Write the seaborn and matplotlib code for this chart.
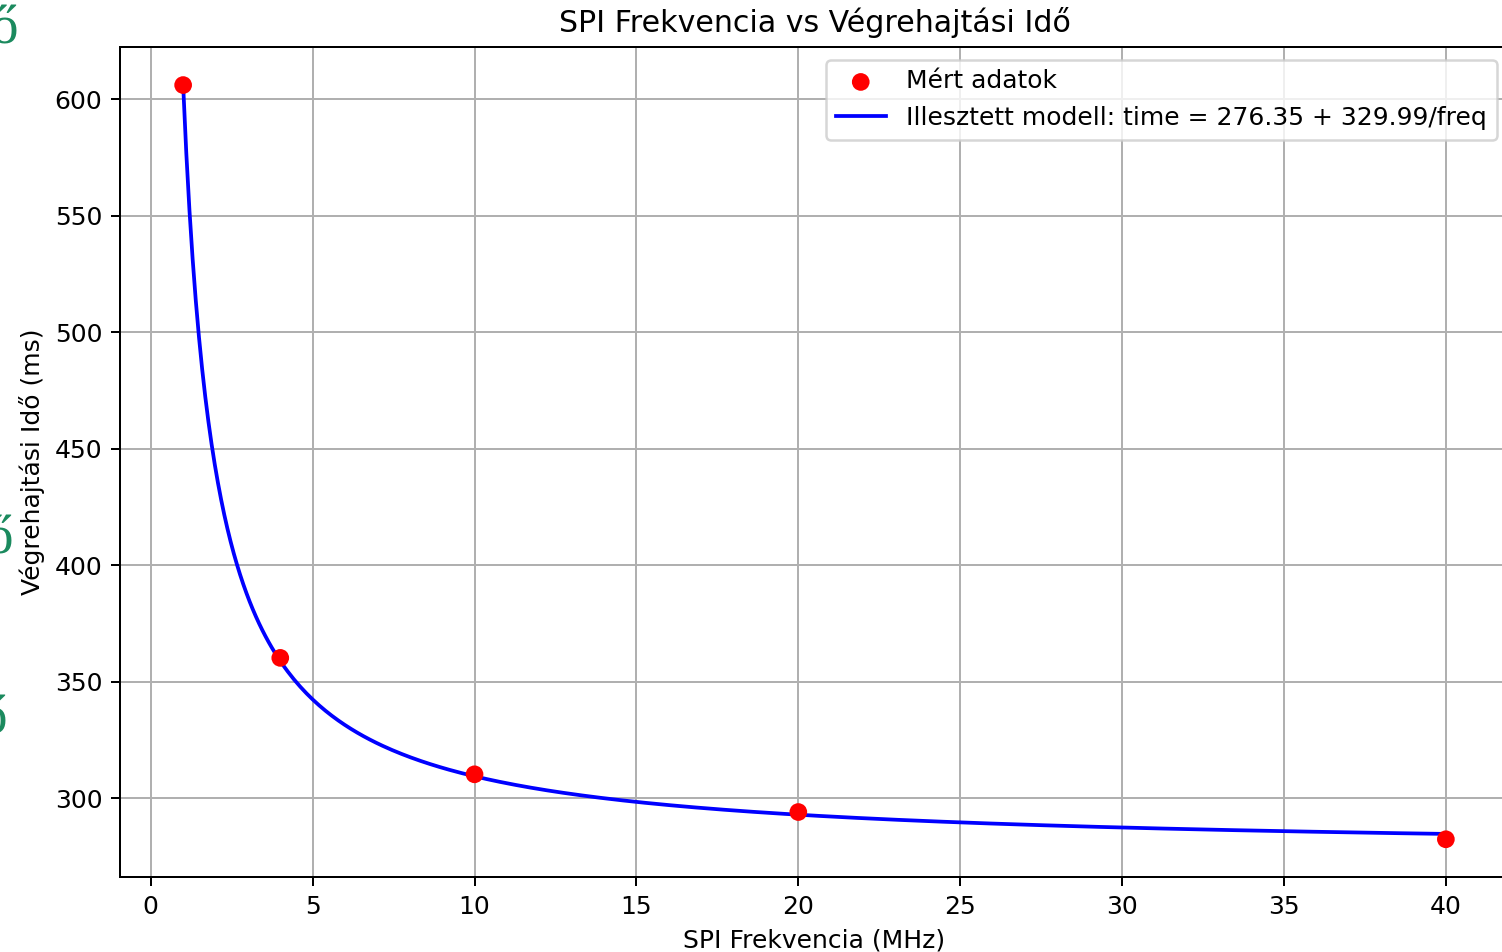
import numpy as np
import pandas as pd
import matplotlib
matplotlib.use("Agg")
import matplotlib.pyplot as plt
import seaborn as sns

# measured points
freq_mhz = [1, 4, 10, 20, 40]
time_ms = [606.2, 360.2, 310.2, 294.0, 282.3]

# fitted model: time = a + b / freq
a_fit = 276.35
b_fit = 329.99

df = pd.DataFrame({"freq": freq_mhz, "time": time_ms})
f_line = np.linspace(min(freq_mhz), max(freq_mhz), 400)
df_fit = pd.DataFrame({"freq": f_line, "time": a_fit + b_fit / f_line})

plt.rcParams["font.family"] = ["DejaVu Sans"]

DPI = 180
fig = plt.figure(figsize=(1502 / DPI, 952 / DPI), dpi=DPI)
ax = fig.add_axes([120 / 1502, 1 - 877 / 952, 1389 / 1502, 830 / 952])

sns.scatterplot(x="freq", y="time", data=df, color="red", s=50,
                edgecolor="none", label="Mért adatok", ax=ax, zorder=3)
sns.lineplot(x="freq", y="time", data=df_fit, color="blue", linewidth=1.5,
             label=f"Illesztett modell: time = {a_fit:.2f} + {b_fit:.2f}/freq",
             ax=ax, zorder=2)

ax.set_title("SPI Frekvencia vs Végrehajtási Idő")
ax.set_xlabel("SPI Frekvencia (MHz)")
ax.set_ylabel("Végrehajtási Idő (ms)")
ax.grid(True)
ax.set_xticks([0, 5, 10, 15, 20, 25, 30, 35, 40])
ax.legend(loc="upper right")

# stray document glyphs at the left edge of the screenshot
for xr, yb in [(18, 44), (13, 553), (7, 733)]:
    fig.text(xr / 1502, 1 - yb / 952, "ő", family="Liberation Serif",
             fontsize=22, color="#1b8a5e", va="baseline", ha="right")

fig.savefig("out.png", dpi=DPI)
